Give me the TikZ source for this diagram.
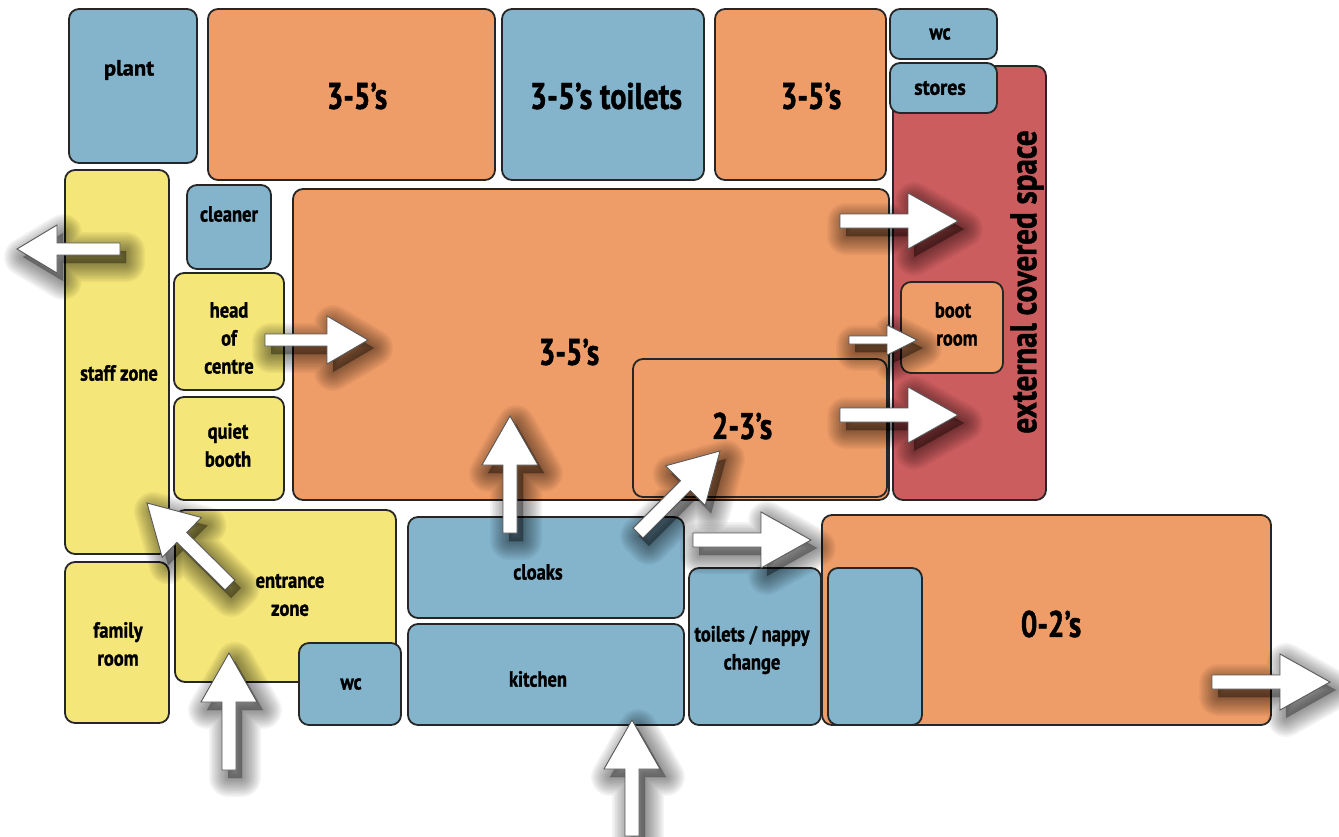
\documentclass[tikz,border=0pt]{standalone}
\usepackage{fontspec}
\setmainfont{PT Sans}[FakeStretch=.84,BoldFeatures={FakeStretch=.84,FakeBold=1.2}]
\usetikzlibrary{calc}
\definecolor{roomorange}{HTML}{EF9D68}
\definecolor{roomblue}{HTML}{83B4CC}
\definecolor{roomyellow}{HTML}{F4E678}
\definecolor{roomred}{HTML}{CC5D5F}
\tikzset{room/.style={draw=black!85,line width=1.8pt,rounded corners=10pt,inner sep=0pt},
  rsize/.style n args={2}{minimum width=#1 pt,minimum height=#2 pt},
  small/.style={font=\bfseries\fontsize{22}{28}\selectfont,align=center,inner sep=0pt},
  big/.style={font=\bfseries\fontsize{37}{40}\selectfont,align=center,inner sep=0pt}}
% tail, tip, half shaft, half head, head length
\newcommand\blockarrow[5]{%
  \coordinate (hb) at ($(#2)!#5!(#1)$);%
  \def\arrowpath{($(#1)!#3!90:(#2)$) -- ($(hb)!#3!90:(#2)$) -- ($(hb)!#4!90:(#2)$) -- (#2)
    -- ($(hb)!#4!-90:(#2)$) -- ($(hb)!#3!-90:(#2)$) -- ($(#1)!#3!-90:(#2)$) -- cycle}%
  \foreach \w in {38,35,...,2} {%
    \path[transform canvas={xshift=6pt,yshift=-8pt},fill=black,draw=black,fill opacity=.03,draw opacity=.04,
      line width=\w pt,line join=round] \arrowpath;}%
  \draw[fill=white,draw=black!65,line width=.9pt] \arrowpath;}
\begin{document}
\begin{tikzpicture}[x=1pt,y=-1pt]%
        \useasboundingbox (0,0) rectangle (1339,836); %%
        \begin{scope}
        \tikzstyle{every node}=[room,fill=roomred] %%
        \node[rsize={153}{434}] (external) at (969.5,283)  {}; %%
        \end{scope}
        \begin{scope}
        \tikzstyle{every node}=[room,fill=roomorange] %%
        \node[rsize={287}{171}] (nurserya) at (351.5,94.5)  {}; %%
        \node[rsize={171}{171}] (nurseryb) at (800.5,94.5)  {}; %%
        \node[rsize={596}{311}] (nurserymain) at (591,344.5)  {}; %%
        \node[rsize={254}{138}] (toddler) at (760,428)  {}; %%
        \node[rsize={102}{91}] (boot) at (952,327.5)  {}; %%
        \node[rsize={449}{210}] (baby) at (1046.5,620)  {}; %%
        \end{scope}
        \begin{scope}
        \tikzstyle{every node}=[room,fill=roomyellow] %%
        \node[rsize={104}{384}] (staff) at (117,362)  {}; %%
        \node[rsize={110}{117}] (head) at (229,331.5)  {}; %%
        \node[rsize={110}{103}] (quiet) at (229,448.5)  {}; %%
        \node[rsize={104}{161}] (family) at (117,642.5)  {}; %%
        \node[rsize={221}{172}] (entrance) at (285.5,596)  {}; %%
        \end{scope}
        \begin{scope}
        \tikzstyle{every node}=[room,fill=roomblue] %%
        \node[rsize={128}{154}] (plant) at (133,86)  {}; %%
        \node[rsize={202}{171}] (toilets) at (603,94.5)  {}; %%
        \node[rsize={107}{50}] (wca) at (943.5,34)  {}; %%
        \node[rsize={107}{50}] (stores) at (943.5,88)  {}; %%
        \node[rsize={84}{84}] (cleaner) at (229,227)  {}; %%
        \node[rsize={102}{82}] (wcb) at (350,684)  {}; %%
        \node[rsize={276}{101}] (cloaks) at (546,567.5)  {}; %%
        \node[rsize={276}{101}] (kitchen) at (546,674.5)  {}; %%
        \node[rsize={132}{157}] (nappy) at (755,646.5)  {}; %%
        \node[rsize={94}{157}] (babywc) at (875,646.5)  {}; %%
        \end{scope}
        \begin{scope}
        \tikzstyle{every node}=[small] %%
        \node[xscale=1.22] (plantt) at (129,70)  {plant}; %%
        \node (wcat) at (940,34)  {wc}; %%
        \node[xscale=1.08] (storest) at (940,88)  {stores}; %%
        \node (cleanert) at (229,214)  {cleaner}; %%
        \node (headt) at (229,338)  {head\\of\\centre}; %%
        \node (quiett) at (228,445)  {quiet\\booth}; %%
        \node (stafft) at (119,373)  {staff zone}; %%
        \node (familyt) at (118,644)  {family\\room}; %%
        \node (entrancet) at (290,595)  {entrance\\zone}; %%
        \node (wcbt) at (351,684)  {wc}; %%
        \node (cloakst) at (538,572)  {cloaks}; %%
        \node (kitchent) at (538,679)  {kitchen}; %%
        \node (nappyt) at (752,650)  {toilets / nappy\\change}; %%
        \node (boott) at (957,324)  {boot\hspace*{8pt}\\room}; %%
        \end{scope}
        \begin{scope}
        \tikzstyle{every node}=[big] %%
        \node[xscale=.94] (nurseryat) at (357,96)  {3-5’s}; %%
        \node[xscale=.97] (toiletst) at (606,96)  {3-5’s toilets}; %%
        \node[xscale=.94] (nurserybt) at (811,96)  {3-5’s}; %%
        \node[xscale=.94] (maint) at (569,352)  {3-5’s}; %%
        \node[xscale=.94] (toddlert) at (742,426)  {2-3’s}; %%
        \node[xscale=.94] (babyt) at (1051,624)  {0-2’s}; %%
        \node[rotate=90] (externalt) at (1027,282)  {external covered space}; %%
        \end{scope}
        \coordinate (staffa) at (120,249); \coordinate (staffb) at (17,249); %%
        \coordinate (heada) at (265,340); \coordinate (headb) at (368,340); %%
        \coordinate (exta) at (840,221); \coordinate (extb) at (958,221); %%
        \coordinate (boota) at (849,340); \coordinate (bootb) at (917,340); %%
        \coordinate (lowa) at (840,415); \coordinate (lowb) at (958,415); %%
        \coordinate (cloaka) at (510,533); \coordinate (cloakb) at (510,416); %%
        \coordinate (diaga) at (638,533); \coordinate (diagb) at (720,451); %%
        \coordinate (babya) at (693,540); \coordinate (babyb) at (811,540); %%
        \coordinate (enta) at (230,585); \coordinate (entb) at (147,503); %%
        \coordinate (upa) at (229,770); \coordinate (upb) at (229,653); %%
        \coordinate (kita) at (632,836); \coordinate (kitb) at (632,720); %%
        \coordinate (outa) at (1212,682); \coordinate (outb) at (1330,682); %%
        \blockarrow{staffa}{staffb}{6pt}{24pt}{40pt} %%
        \blockarrow{heada}{headb}{6pt}{24pt}{41pt} %%
        \blockarrow{exta}{extb}{7pt}{28pt}{50pt} %%
        \blockarrow{boota}{bootb}{4pt}{15pt}{30pt} %%
        \blockarrow{lowa}{lowb}{7pt}{28pt}{50pt} %%
        \blockarrow{cloaka}{cloakb}{7pt}{28pt}{49pt} %%
        \blockarrow{diaga}{diagb}{7pt}{28pt}{49pt} %%
        \blockarrow{babya}{babyb}{7pt}{28pt}{50pt} %%
        \blockarrow{enta}{entb}{7pt}{28pt}{49pt} %%
        \blockarrow{upa}{upb}{7pt}{28pt}{49pt} %%
        \blockarrow{kita}{kitb}{7pt}{28pt}{49pt} %%
        \blockarrow{outa}{outb}{7pt}{28pt}{50pt} %%
\end{tikzpicture}
\end{document}
